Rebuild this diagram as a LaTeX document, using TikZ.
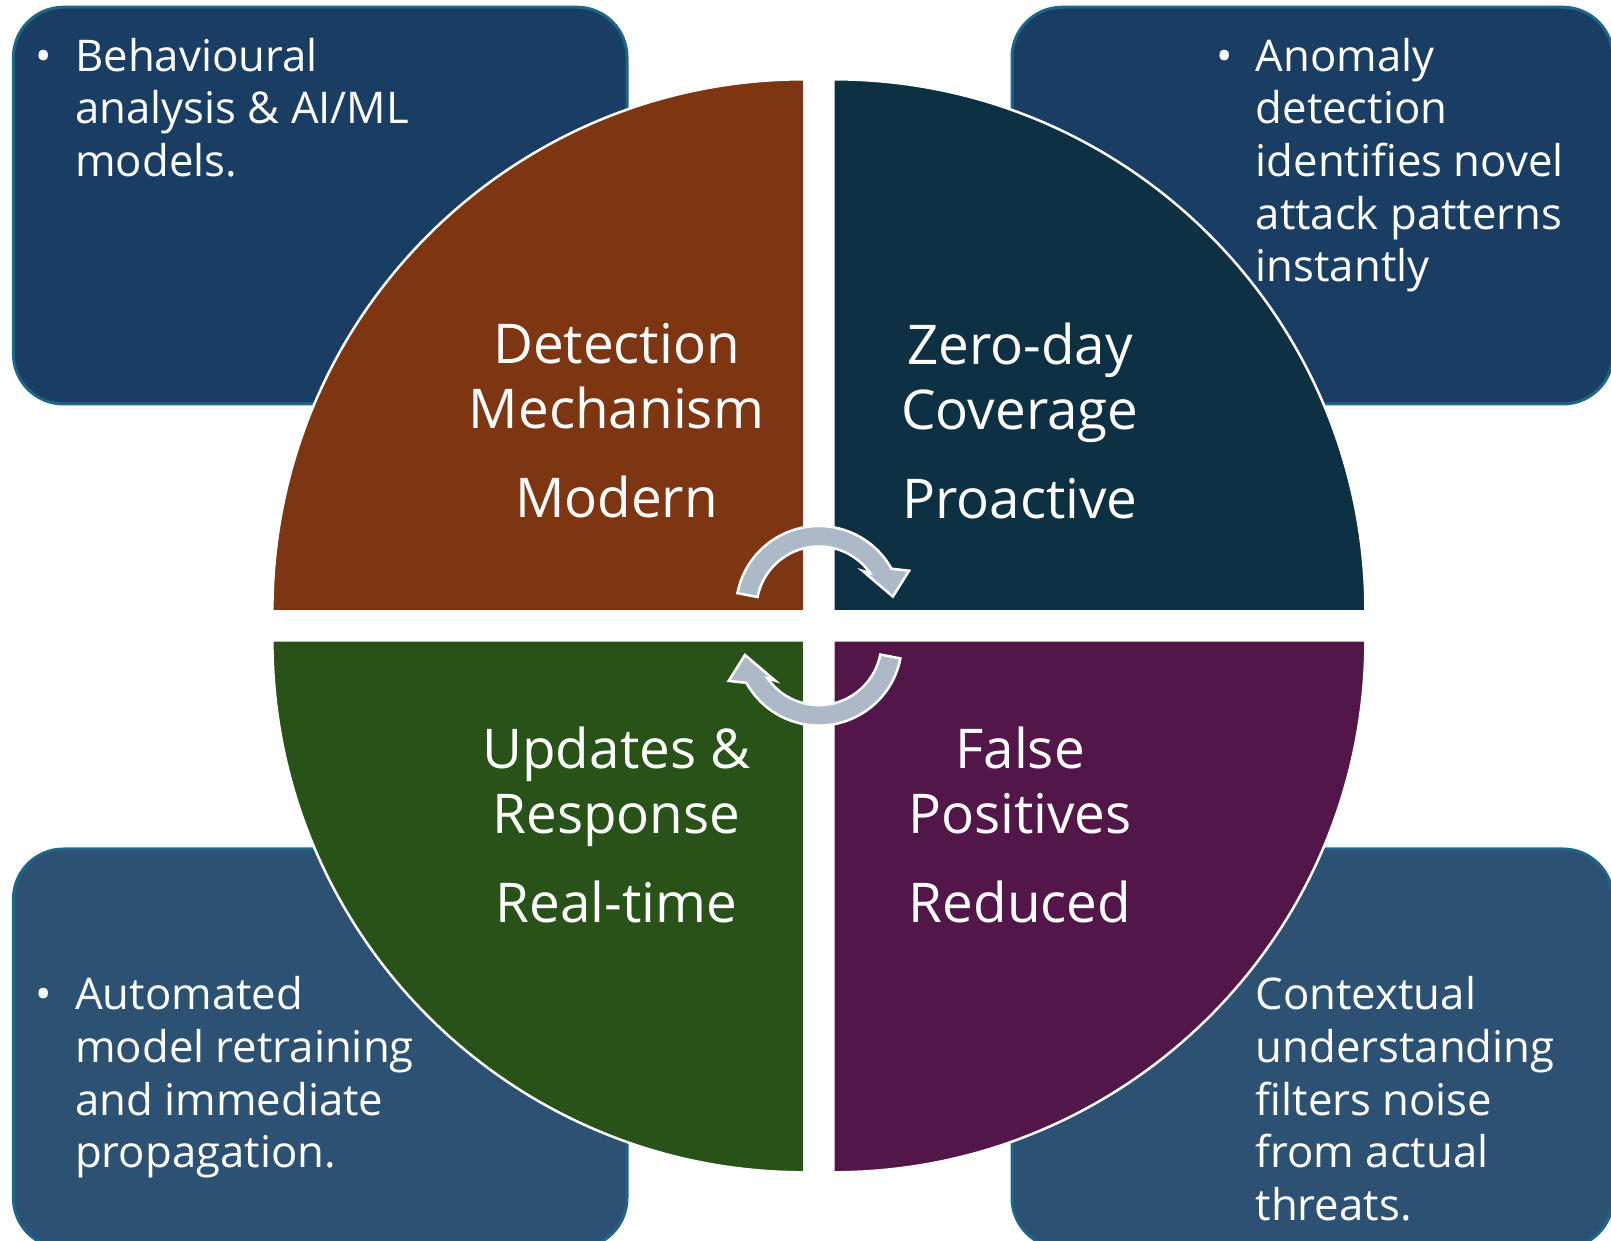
\documentclass[tikz,border=0pt]{standalone}
\usepackage{fontspec}
\setmainfont{Open Sans}
\usetikzlibrary{positioning,calc}

\definecolor{boxtop}{HTML}{1A3D63}
\definecolor{boxbot}{HTML}{2D5173}
\definecolor{boxline}{HTML}{1F6587}
\definecolor{qbrown}{HTML}{7E3511}
\definecolor{qteal}{HTML}{0D3042}
\definecolor{qgreen}{HTML}{295219}
\definecolor{qpurple}{HTML}{521748}
\definecolor{cycgrey}{HTML}{ADB9C6}

\begin{document}
\begin{tikzpicture}[
    x=1pt, y=1pt,
    box/.style={draw=boxline, line width=3pt, rounded corners=50pt},
    quad/.style={draw=white, line width=2.5pt},
    note/.style={text=white, align=left, inner sep=0pt, anchor=north west,
        font=\fontsize{43.7}{52.6}\selectfont},
    title/.style={text=white, align=center, inner sep=0pt, anchor=north,
        font=\fontsize{54.8}{65}\selectfont},
    turn/.style={fill=cycgrey, draw=white, line width=2.5pt}
]
    \useasboundingbox (0,0) rectangle (1611,1240);

    % Side boxes
    \begin{scope}
        \clip (0,0) rectangle (1611,1240);
        \draw[box, fill=boxtop] (13.4,836) rectangle (627,1232.8);
        \draw[box, fill=boxtop] (1012,836) rectangle (1613,1232.8);
        \draw[box, fill=boxbot] (13.4,-8) rectangle (627,391);
        \draw[box, fill=boxbot] (1012,-8) rectangle (1613,391);
    \end{scope}

    % Four quadrants
    \coordinate (c) at (818.9,614.2);
    \def\qr{532}
    \draw[quad, fill=qbrown] ($(c)+(-14.5,14.5)$) -- ++(-\qr,0)
        arc[start angle=180, end angle=90, radius=\qr] -- cycle;
    \draw[quad, fill=qteal] ($(c)+(14.5,14.5)$) -- ++(0,\qr)
        arc[start angle=90, end angle=0, radius=\qr] -- cycle;
    \draw[quad, fill=qpurple] ($(c)+(14.5,-14.5)$) -- ++(\qr,0)
        arc[start angle=0, end angle=-90, radius=\qr] -- cycle;
    \draw[quad, fill=qgreen] ($(c)+(-14.5,-14.5)$) -- ++(0,-\qr)
        arc[start angle=270, end angle=180, radius=\qr] -- cycle;

    % Cycle arrows
    \foreach \cy/\r in {631/0, 597.4/180} {
        \draw[turn] ($(818.9,\cy)+(169+\r:83)$)
            arc[start angle=169+\r, delta angle=-140, radius=83]
            -- ($(818.9,\cy)+(23+\r:98)$) -- ($(818.9,\cy)+(9.5+\r:75)$)
            -- ($(818.9,\cy)+(41+\r:58)$) -- ($(818.9,\cy)+(35+\r:62.5)$)
            arc[start angle=35+\r, delta angle=134, radius=62.5] -- cycle;
    }

    % Quadrant labels
    \node[title] (detect) at (616.5,917) {Detection\\Mechanism\\[24pt]Modern};
    \node[title] (zeroday) at (1020,917) {Zero-day\\Coverage\\[24pt]Proactive};
    \node[title] (updates) at (616.5,513) {Updates \&\\Response\\[24pt]Real-time};
    \node[title] (falsepos) at (1020,513) {False\\Positives\\[24pt]Reduced};

    % Box notes
    \node[note] (behav) at (75,1202)
        {\llap{•\hspace{23pt}}Behavioural\\analysis \& AI/ML\\models.};
    \node[note] (anomaly) at (1255.5,1202)
        {\llap{•\hspace{23pt}}Anomaly\\detection\\identifies novel\\attack patterns\\instantly};
    \node[note] (retrain) at (75,263.5)
        {\llap{•\hspace{23pt}}Automated\\model retraining\\and immediate\\propagation.};
    \node[note] (context) at (1255.5,263.5)
        {Contextual\\understanding\\filters noise\\from actual\\threats.};
\end{tikzpicture}
\end{document}
